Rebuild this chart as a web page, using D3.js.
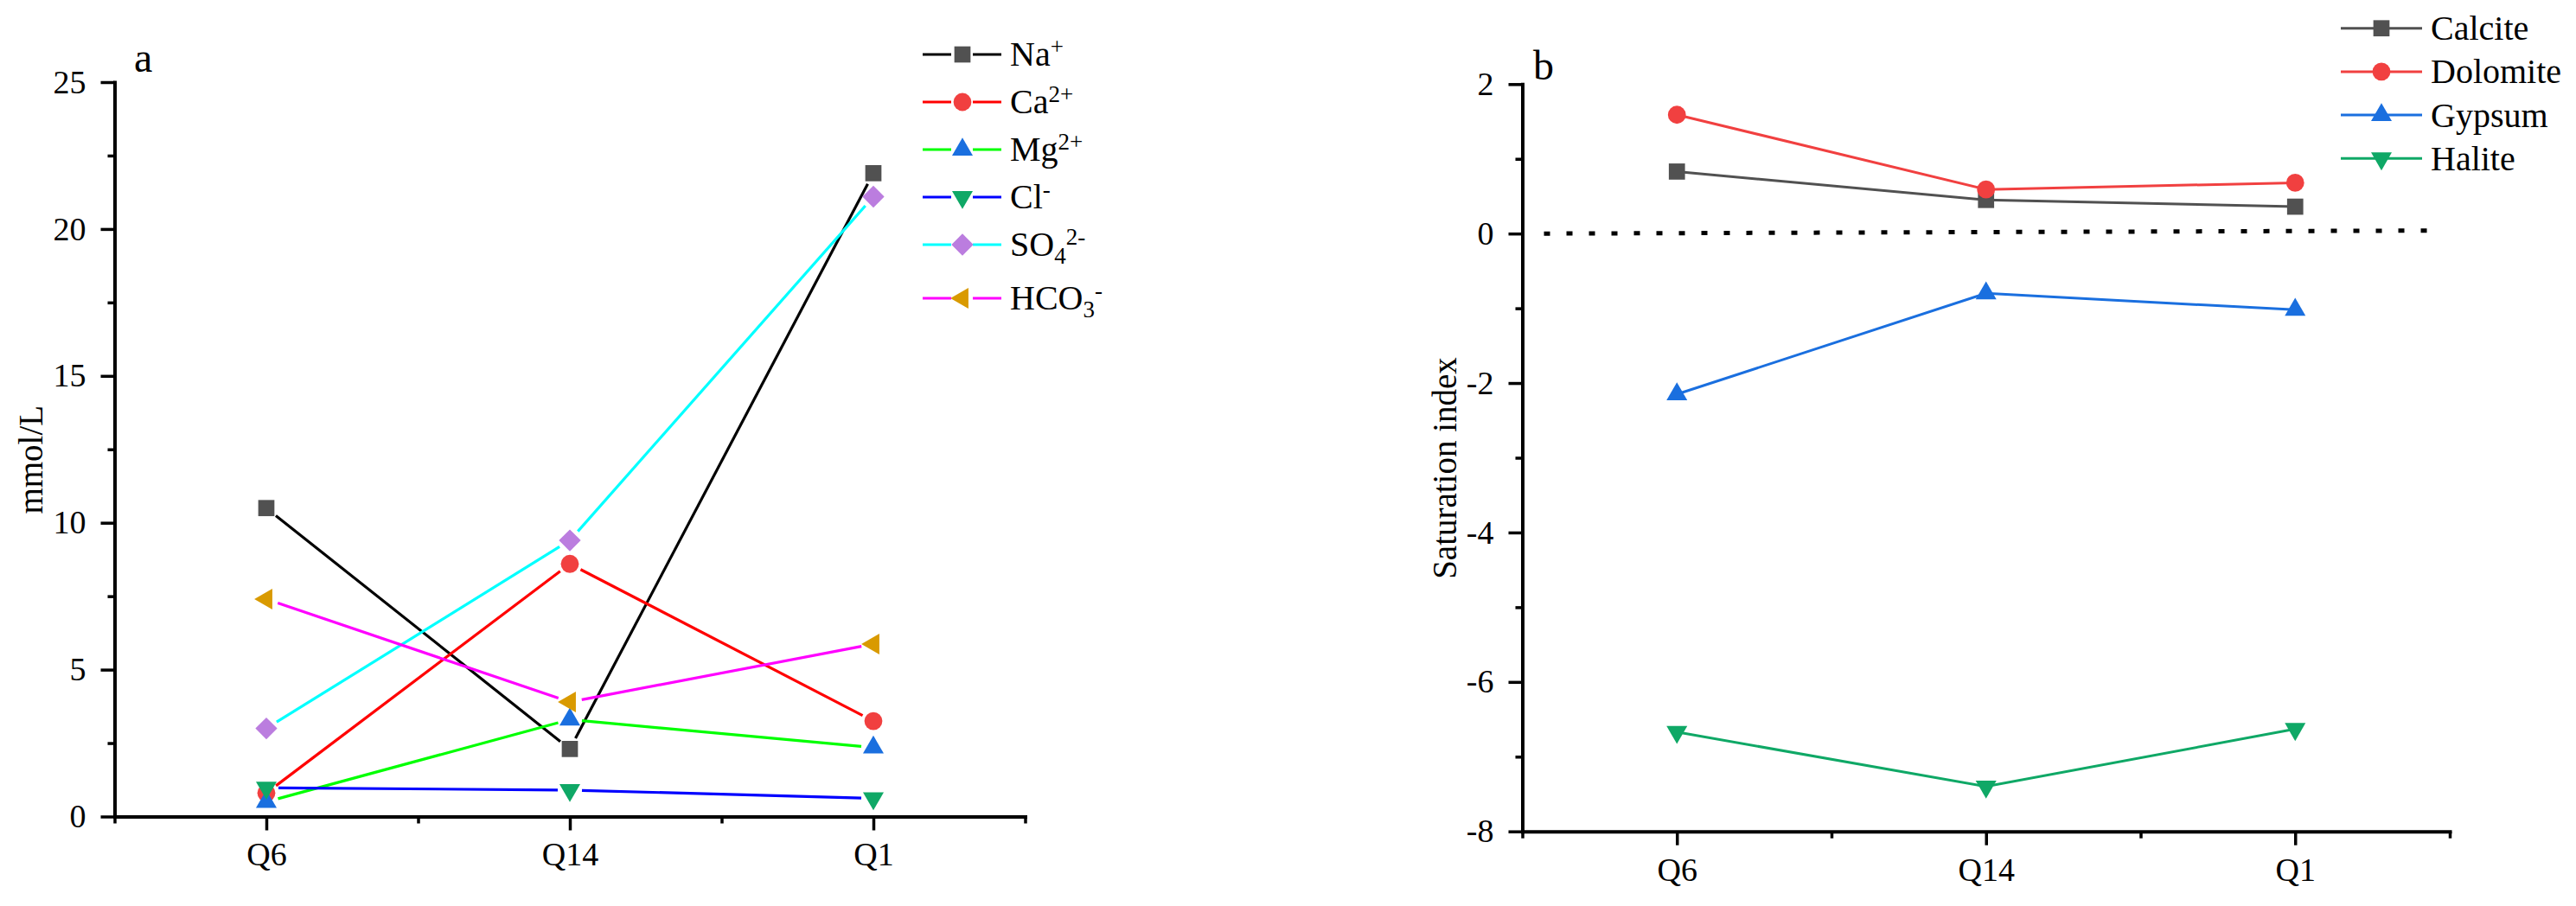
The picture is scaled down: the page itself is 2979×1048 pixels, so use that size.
<!DOCTYPE html>
<html>
<head>
<meta charset="utf-8">
<script src="https://cdn.jsdelivr.net/npm/d3@7"></script>
<style>
  body { margin: 0; background: #fff; }
  text { font-family: "Liberation Serif", "Times New Roman", serif; fill: #000; }
</style>
</head>
<body>
<svg id="chart"></svg>
<script>
let width = 2979;
let height = 1048;

const sites = ["Q6", "Q14", "Q1"];

// panel a : ion concentrations, mmol/L
const na = [10.5, 2.3, 21.9];
const ca = [0.8, 8.6, 3.25];
const mg = [0.5, 3.3, 2.35];
const cl = [0.98, 0.9, 0.62];
const so4 = [3.0, 9.4, 21.1];
const hco3 = [7.4, 3.9, 5.87];
const ionLabels = [
    [["Na"], ["+", "sup"]],
    [["Ca"], ["2+", "sup"]],
    [["Mg"], ["2+", "sup"]],
    [["Cl"], ["-", "sup"]],
    [["SO"], ["4", "sub"], ["2-", "sup"]],
    [["HCO"], ["3", "sub"], ["-", "sup"]]
];
const ionLines = ["#000000", "#ff0000", "#00ff00", "#0000ff", "#00ffff", "#ff00ff"];
const ionMarks = ["#515151", "#f14040", "#1a6fdf", "#0fa866", "#bb7ddf", "#d99a00"];
const ionShapes = ["square", "circle", "up", "down", "diamond", "left"];
const ionTicks = [0, 5, 10, 15, 20, 25];
const ionMinor = [2.5, 7.5, 12.5, 17.5, 22.5];

// panel b : saturation index
const calcite = [0.83, 0.45, 0.36];
const dolomite = [1.59, 0.59, 0.68];
const gypsum = [-2.15, -0.8, -1.02];
const halite = [-6.67, -7.4, -6.63];
const mineralNames = ["Calcite", "Dolomite", "Gypsum", "Halite"];
const mineralColors = ["#515151", "#f14040", "#1a6fdf", "#0fa866"];
const mineralShapes = ["square", "circle", "up", "down"];
const siTicks = [-8, -6, -4, -2, 0, 2];
const siMinor = [-7, -5, -3, -1, 1];
const zeroLine = [[0.57, 0], [3.44, 0.04]];

const svg = d3.select("#chart").attr("width", width).attr("height", height);
svg.append("rect").attr("width", width).attr("height", height).attr("fill", "#fff");

function symbolPath(shape) {
    let spec = {
        square: [d3.symbolSquare, 350, 0],
        circle: [d3.symbolCircle, 340, 0],
        up: [d3.symbolTriangle, 250, 0],
        down: [d3.symbolTriangle, 250, 180],
        diamond: [d3.symbolSquare, 320, 45],
        left: [d3.symbolTriangle, 250, -90]
    }[shape];
    return {d: d3.symbol().type(spec[0]).size(spec[1])(), rot: spec[2]};
}

function drawMarker(g, x, y, shape, color) {
    let s = symbolPath(shape);
    g.append("path")
        .attr("d", s.d)
        .attr("transform", `translate(${x},${y}) rotate(${s.rot})`)
        .attr("fill", color);
}

function richText(sel, parts) {
    let shift = 0;
    parts.forEach(p => {
        let kind = p[1];
        let target = kind == "sup" ? -13 : kind == "sub" ? 9 : 0;
        sel.append("tspan")
            .attr("dy", target - shift)
            .attr("font-size", kind ? 27 : null)
            .text(p[0]);
        shift = target;
    });
}

// plain hyphen for negatives, like the original figure
let hyphenFormat = d => (d < 0 ? "-" + Math.abs(d) : String(d));

function drawAxes(g, x, y, major, minor, title, titleX) {
    g.append("g")
        .attr("transform", `translate(${x.range()[0]},0)`)
        .call(d3.axisLeft(y).tickValues(minor).tickSize(8).tickSizeOuter(0).tickFormat(""))
        .call(a => a.select(".domain").remove());
    g.append("g")
        .attr("transform", `translate(0,${y.range()[0]})`)
        .call(d3.axisBottom(x).tickValues([0.5, 1.5, 2.5, 3.5]).tickSize(8).tickSizeOuter(0).tickFormat(""))
        .call(a => a.select(".domain").remove());

    let ya = g.append("g")
        .attr("transform", `translate(${x.range()[0]},0)`)
        .call(d3.axisLeft(y).tickValues(major).tickSize(16).tickPadding(17)
            .tickSizeOuter(0).tickFormat(hyphenFormat));
    let xa = g.append("g")
        .attr("transform", `translate(0,${y.range()[0]})`)
        .call(d3.axisBottom(x).tickValues([1, 2, 3]).tickSize(16).tickPadding(14)
            .tickSizeOuter(0).tickFormat(i => sites[i - 1]));

    g.selectAll(".tick line").attr("stroke", "#000").attr("stroke-width", 3.5);
    g.selectAll(".domain").attr("stroke", "#000").attr("stroke-width", 4).attr("stroke-linecap", "square");
    [ya, xa].forEach(a => a.selectAll("text")
        .attr("font-family", "Liberation Serif")
        .attr("font-size", 38)
        .attr("fill", "#000"));

    let midY = (y.range()[0] + y.range()[1]) / 2 + 12;
    g.append("text")
        .attr("transform", `translate(${titleX},${midY}) rotate(-90)`)
        .attr("text-anchor", "middle")
        .attr("font-size", 39)
        .text(title);
}

// ---------- panel a ----------
let ions = [na, ca, mg, cl, so4, hco3];
let ga = svg.append("g");
let xa = d3.scaleLinear().domain([0.5, 3.5]).range([132.5, 1185.5]);
let ya = d3.scaleLinear().domain([0, 25]).range([944.5, 95]);

drawAxes(ga, xa, ya, ionTicks, ionMinor, "mmol/L", 49);

let gap = 14;
ions.forEach((vals, k) => {
    let pts = vals.map((v, i) => [xa(i + 1), ya(v)]);
    for (let i = 0; i < pts.length - 1; i++) {
        let [x0, y0] = pts[i];
        let [x1, y1] = pts[i + 1];
        let len = Math.hypot(x1 - x0, y1 - y0);
        let ux = (x1 - x0) / len, uy = (y1 - y0) / len;
        ga.append("path")
            .attr("d", d3.line()([[x0 + ux * gap, y0 + uy * gap], [x1 - ux * gap, y1 - uy * gap]]))
            .attr("fill", "none")
            .attr("stroke", ionLines[k])
            .attr("stroke-width", 3.2);
    }
    pts.forEach(p => drawMarker(ga, p[0], p[1], ionShapes[k], ionMarks[k]));
});

ga.append("text").attr("x", 155).attr("y", 83).attr("font-size", 48).text("a");

let legA = ga.append("g");
ionLabels.forEach((lab, k) => {
    let cy = 63 + k * 55 + (k == 5 ? 7 : 0);
    legA.append("line").attr("x1", 1067).attr("x2", 1100).attr("y1", cy).attr("y2", cy)
        .attr("stroke", ionLines[k]).attr("stroke-width", 3.2);
    legA.append("line").attr("x1", 1125).attr("x2", 1158).attr("y1", cy).attr("y2", cy)
        .attr("stroke", ionLines[k]).attr("stroke-width", 3.2);
    drawMarker(legA, 1113, cy, ionShapes[k], ionMarks[k]);
    let t = legA.append("text").attr("x", 1168).attr("y", cy + 13).attr("font-size", 40);
    richText(t, lab);
});

// ---------- panel b ----------
let minerals = [calcite, dolomite, gypsum, halite];
let gb = svg.append("g");
let xb = d3.scaleLinear().domain([0.5, 3.5]).range([1760.5, 2833]);
let yb = d3.scaleLinear().domain([-8, 2]).range([961.7, 97.3]);

drawAxes(gb, xb, yb, siTicks, siMinor, "Saturation index", 1684);

gb.append("path")
    .attr("d", d3.line().x(d => xb(d[0])).y(d => yb(d[1]))(zeroLine))
    .attr("fill", "none")
    .attr("stroke", "#000")
    .attr("stroke-width", 5)
    .attr("stroke-dasharray", "7 19");

let lineB = d3.line().x((d, i) => xb(i + 1)).y(d => yb(d));
minerals.forEach((vals, k) => {
    gb.append("path")
        .attr("d", lineB(vals))
        .attr("fill", "none")
        .attr("stroke", mineralColors[k])
        .attr("stroke-width", 3);
    vals.forEach((v, i) => drawMarker(gb, xb(i + 1), yb(v), mineralShapes[k], mineralColors[k]));
});

gb.append("text").attr("x", 1773).attr("y", 92).attr("font-size", 48).text("b");

let legB = gb.append("g");
mineralNames.forEach((name, k) => {
    let cy = 32.7 + k * 50.2;
    legB.append("line").attr("x1", 2707).attr("x2", 2801).attr("y1", cy).attr("y2", cy)
        .attr("stroke", mineralColors[k]).attr("stroke-width", 3);
    drawMarker(legB, 2754, cy, mineralShapes[k], mineralColors[k]);
    legB.append("text").attr("x", 2811).attr("y", cy + 13.5).attr("font-size", 40).text(name);
});
</script>
</body>
</html>
